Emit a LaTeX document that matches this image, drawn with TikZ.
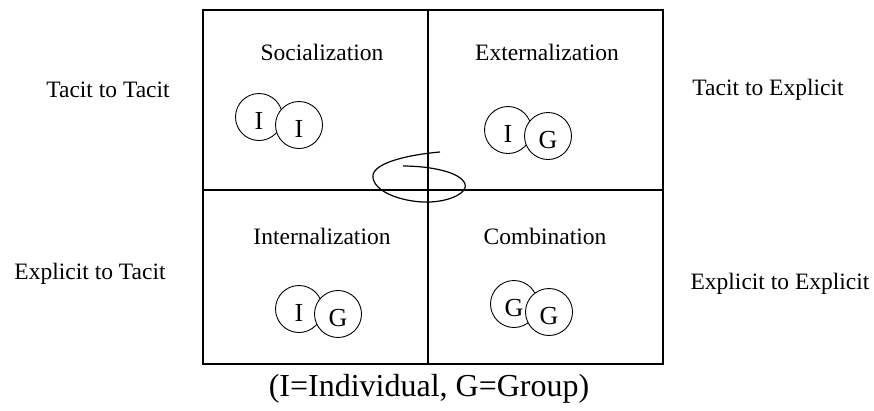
\documentclass[tikz,border=0pt]{standalone}
\usepackage{fontspec}
\setmainfont{Liberation Serif}
\usetikzlibrary{positioning,calc}
\newcommand{\modetext}{\fontsize{23.5}{26}\selectfont}

\begin{document}
\begin{tikzpicture}[
  x=1pt, y=-1pt,
  grid/.style={line width=2pt},
  modename/.style={font=\modetext, inner sep=0pt},
  convname/.style={font=\modetext, inner sep=0pt},
  agent/.style={circle, draw, line width=0.9pt, fill=white, minimum size=47pt, inner sep=0pt, font=\fontsize{26}{28}\selectfont, text height=24pt, text depth=0pt},
  spiral/.style={line width=1.2pt},
]
\useasboundingbox (0,0) rectangle (874,410);

% the four quadrants
\coordinate (box-nw) at (203,10);
\coordinate (box-se) at (663,364);
\coordinate (mid) at (428,190);
\draw[grid] (box-nw) rectangle (box-se);
\draw[grid] (mid |- box-nw) -- (mid |- box-se);
\draw[grid] (mid -| box-nw) -- (mid -| box-se);

\node[modename] (soc) at (322,52) {Socialization};
\node[modename] (ext) at (547,52) {Externalization};
\node[modename] (int) at (322,236) {Internalization};
\node[modename] (com) at (545,236) {Combination};

\node[convname] (t-t) at (108,90) {Tacit to Tacit};
\node[convname] (t-e) at (768,90) {Tacit to Explicit};
\node[convname] (e-t) at (90,274) {Explicit to Tacit};
\node[convname] (e-e) at (780,284) {Explicit to Explicit};

% individuals and groups
\node[agent] (soc-a) at (259,117) {I};
\node[agent] (soc-b) at (299,125) {I};
\node[agent] (ext-a) at (508,130) {I};
\node[agent] (ext-b) at (548,136) {G};
\node[agent] (int-a) at (299,309) {I};
\node[agent] (int-b) at (338,314) {G};
\node[agent] (com-a) at (514,304) {G};
\node[agent] (com-b) at (549,312) {G};

% knowledge spiral
\coordinate (sp-in) at (440,152);
\coordinate (sp-out) at (403,166);
\draw[spiral] (sp-in) .. controls (405,155) and (370,164) .. (373,178)
  .. controls (376,195) and (410,203) .. (430,202)
  .. controls (452,201) and (468,192) .. (465,184)
  .. controls (461,172) and (430,166) .. (sp-out);

\node[font=\fontsize{32}{34}\selectfont, inner sep=0pt] (key) at (429,389) {(I=Individual, G=Group)};
\end{tikzpicture}
\end{document}
